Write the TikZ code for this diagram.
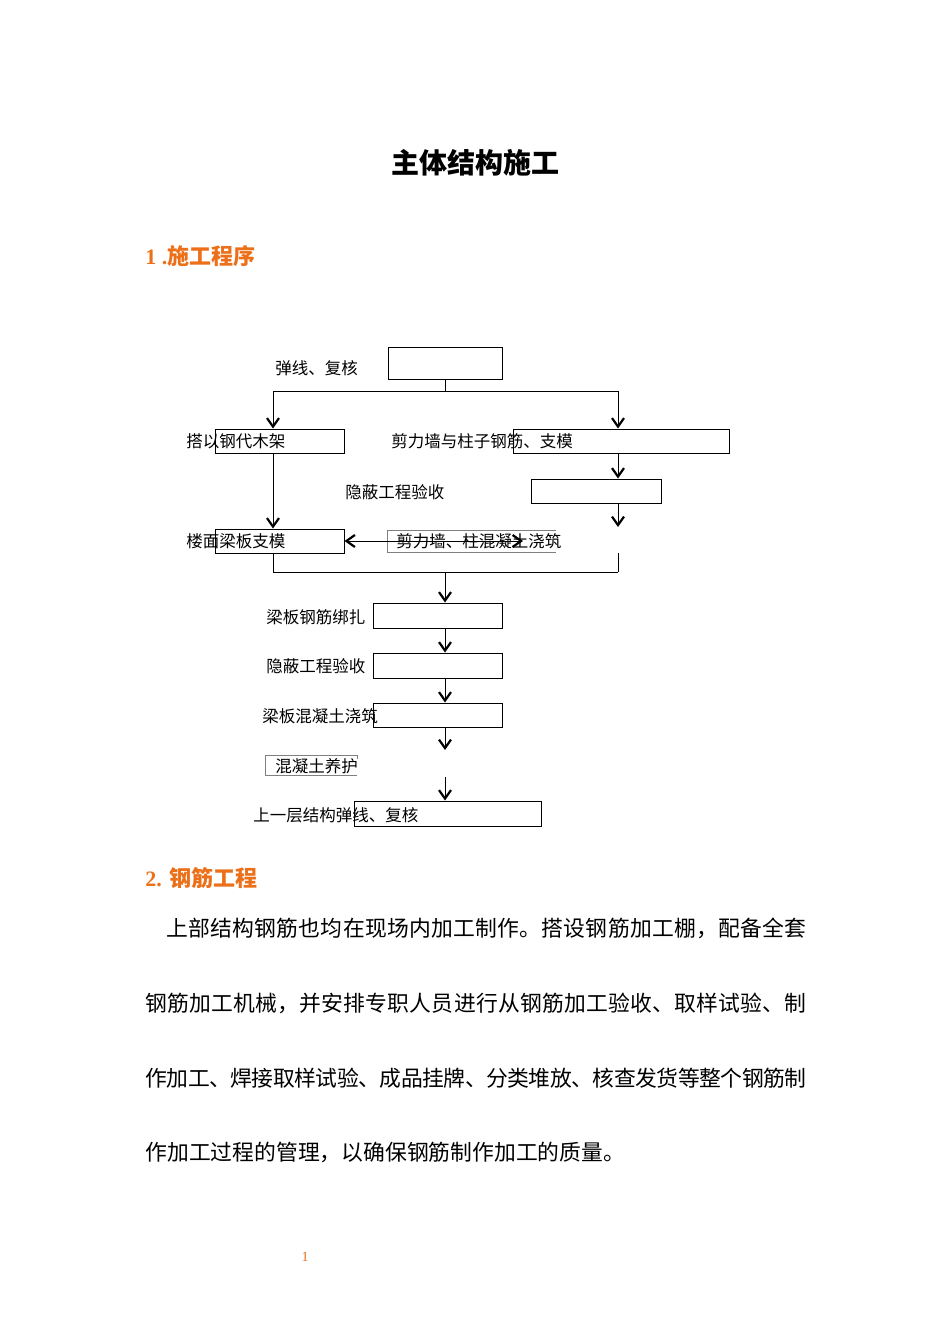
\documentclass[tikz,border=0pt]{standalone}
\usepackage{fontspec}
\setmainfont{Liberation Serif}
\newfontfamily\cjk{Noto Sans CJK SC}
\usetikzlibrary{arrows.meta}
\definecolor{hdorange}{RGB}{235,112,25}
% spread the characters of a line over a given width
\def\spr#1{\sprloop#1\relax}
\def\sprloop#1{\ifx#1\relax\else#1\hskip0pt plus 1fil minus 1fil\expandafter\sprloop\fi}
\newcommand{\jline}[2]{\hbox to #1{\spr{#2}\unskip}}

\begin{document}
\begin{tikzpicture}[x=1pt, y=-1pt, line width=0.9pt,
  >={Straight Barb[length=8.5pt,width=12pt,line width'=2.2pt 0]},
  bx/.style={draw, line width=1pt, inner sep=0pt, minimum height=24pt},
  gbx/.style={draw=black!50, line width=1pt},
  lbl/.style={anchor=west, inner sep=0pt, font=\cjk\fontsize{16.5}{18}\selectfont},
  body/.style={anchor=west, inner sep=0pt, font=\cjk\fontsize{21.8}{24}\selectfont},
  hd/.style={anchor=west, inner sep=0pt, text=hdorange, font=\bfseries\fontsize{22}{24}\selectfont}]
\useasboundingbox (0,0) rectangle (950,1344);
% title and first heading
\node[font=\cjk\bfseries\fontsize{28}{32}\selectfont] (title) at (475,163) {主体结构施工};
\node[hd] (h1) at (145,256) {1 .{\cjk 施工程序}};
% boxes of the flow chart
\node[bx, minimum width=114pt, minimum height=32pt] (top) at (445,363) {};
\node[bx, minimum width=129pt] (scaf) at (279.5,441) {};
\node[bx, minimum width=216pt] (wall) at (621,441) {};
\node[bx, minimum width=130pt] (hid1) at (596,491) {};
\node[bx, minimum width=129pt] (floor) at (279.5,541) {};
\node[bx, minimum width=129pt, minimum height=25pt] (rebar) at (437.5,615.5) {};
\node[bx, minimum width=129pt, minimum height=25pt] (hid2) at (437.5,665.5) {};
\node[bx, minimum width=129pt] (slab) at (437.5,715) {};
\node[bx, minimum width=187pt, minimum height=25pt] (next) at (447.5,813.5) {};
% open grey frames
\draw[gbx] (556,530) -- (387,530) -- (387,552) -- (556,552);
\draw[gbx] (357,759) |- (265,755) |- (357,775);
% labels
\node[lbl] (t1) at (275,368) {弹线、复核};
\node[lbl] (t2) at (186,441) {搭以钢代木架};
\node[lbl] (t3) at (391,441) {剪力墙与柱子钢筋、支模};
\node[lbl] (t4) at (345,492) {隐蔽工程验收};
\node[lbl] (t5) at (186,541) {楼面梁板支模};
\node[lbl] (t6) at (396,541) {剪力墙、柱混凝土浇筑};
\node[lbl] (t7) at (266,617) {梁板钢筋绑扎};
\node[lbl] (t8) at (266,666) {隐蔽工程验收};
\node[lbl] (t9) at (262,716) {梁板混凝土浇筑};
\node[lbl] (t10) at (275,766) {混凝土养护};
\node[lbl] (t11) at (253,815) {上一层结构弹线、复核};
% split and join points
\coordinate (sm) at (445,391);
\coordinate (sl) at (273,391);
\coordinate (sr) at (618,391);
\coordinate (rend) at (618,527);
\coordinate (rjoin) at (618,553);
\coordinate (mr) at (618,572);
\coordinate (mj) at (445,572);
\coordinate (sg) at (445,750);
\coordinate (cg) at (445,777);
\coordinate (pr) at (523,541);
% connectors
\draw[->] (top.south) |- (sl) -- (sl |- scaf.north);
\draw[->] (sm) -| (sr |- wall.north);
\draw[->] (wall.south -| sr) -- (hid1.north -| sr);
\draw[->] (hid1.south -| sr) -- (rend);
\draw[->] (scaf.south -| sl) -- (floor.north -| sl);
\draw (floor.south -| sl) |- (mr);
\draw (rjoin) -- (mr);
\draw[<->] (floor.east) -- (pr);
\draw[->] (mj) -- (rebar.north -| mj);
\draw[->] (rebar.south -| mj) -- (hid2.north -| mj);
\draw[->] (hid2.south -| mj) -- (slab.north -| mj);
\draw[->] (slab.south -| mj) -- (sg);
\draw[->] (cg) -- (next.north -| mj);
% second heading and text
\node[hd] (h2) at (145,878) {2. {\cjk 钢筋工程}};
\node[body] (p1) at (166,928) {\jline{640pt}{上部结构钢筋也均在现场内加工制作。搭设钢筋加工棚，配备全套}};
\node[body] (p2) at (145,1003) {\jline{661pt}{钢筋加工机械，并安排专职人员进行从钢筋加工验收、取样试验、制}};
\node[body] (p3) at (145,1078) {\jline{661pt}{作加工、焊接取样试验、成品挂牌、分类堆放、核查发货等整个钢筋制}};
\node[body] (p4) at (145,1152) {作加工过程的管理，以确保钢筋制作加工的质量。};
% page number
\node[text=hdorange, font=\fontsize{14}{16}\selectfont] (pg) at (305,1257) {1};
\end{tikzpicture}
\end{document}
